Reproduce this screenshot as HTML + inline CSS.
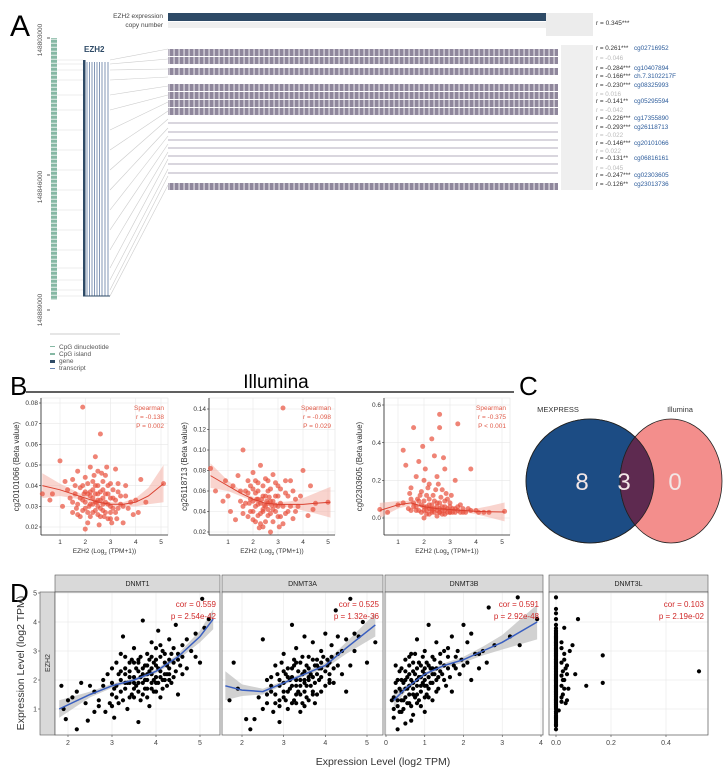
<!DOCTYPE html>
<html><head><meta charset="utf-8"><style>
html,body{margin:0;padding:0;background:#fff;}
svg{display:block;font-family:"Liberation Sans Narrow","Liberation Sans",sans-serif;}
</style></head><body>
<svg id="fig" width="728" height="770" viewBox="0 0 728 770" xmlns="http://www.w3.org/2000/svg">
<defs>
<pattern id="stripes" width="5" height="10" patternUnits="userSpaceOnUse"><rect width="5" height="10" fill="#8f879c"/><rect x="3.6" width="0.9" height="10" fill="#fff"/></pattern>
<pattern id="cpg" width="6" height="4" patternUnits="userSpaceOnUse"><rect width="6" height="4" fill="#86b8a4"/><rect y="2.8" width="6" height="0.8" fill="#fff"/></pattern>
</defs>
<g>
<text x="10" y="36" font-size="30" font-family="Liberation Sans">A</text>
<text x="163" y="18" font-size="6.5" text-anchor="end" fill="#444">EZH2 expression</text>
<text x="163" y="27" font-size="6.5" text-anchor="end" fill="#444">copy number</text>
<rect x="168" y="13" width="378" height="8" fill="#2e4a66"/>
<rect x="546" y="13" width="47" height="23" fill="#ececec"/>
<rect x="168" y="22" width="378" height="6" fill="#efefef"/>
<text x="596" y="25" font-size="6.5" fill="#333">r = 0.345***</text>
<rect x="561" y="45" width="32" height="145" fill="#efefef"/>
<g id="tracks"></g>
<g id="fan"></g>
<rect x="51" y="38" width="6" height="262" fill="url(#cpg)"/>
<line x1="47" y1="38" x2="50" y2="38" stroke="#333" stroke-width="0.8"/>
<line x1="47" y1="175" x2="50" y2="175" stroke="#333" stroke-width="0.8"/>
<line x1="47" y1="310" x2="50" y2="310" stroke="#333" stroke-width="0.8"/>
<text transform="translate(42,40) rotate(-90)" font-size="6.5" text-anchor="middle" fill="#555">148803000</text>
<text transform="translate(42,187) rotate(-90)" font-size="6.5" text-anchor="middle" fill="#555">148846000</text>
<text transform="translate(42,310) rotate(-90)" font-size="6.5" text-anchor="middle" fill="#555">148889000</text>
<text x="84" y="52" font-size="8" font-weight="bold" fill="#2e4a66">EZH2</text>
<g id="gene"></g>
<line x1="50" y1="334" x2="120" y2="334" stroke="#ccc" stroke-width="1"/>
<g font-size="6.5" fill="#555">
<rect x="50" y="346" width="5" height="1" fill="#86b8a4"/><text x="59" y="349">CpG dinucleotide</text>
<rect x="50" y="353" width="5" height="2" fill="#86b8a4"/><text x="59" y="356">CpG island</text>
<rect x="50" y="360" width="5" height="3" fill="#2e4a66"/><text x="59" y="363">gene</text>
<rect x="50" y="368" width="5" height="1" fill="#6a86b4"/><text x="59" y="370">transcript</text>
</g>
</g>
<g>
<text x="10" y="395" font-size="26" font-family="Liberation Sans">B</text>
<text x="276" y="388" font-size="19" text-anchor="middle">Illumina</text>
<line x1="26" y1="392" x2="514" y2="392" stroke="#000" stroke-width="1.2"/>
<g id="bplots"></g>
</g>
<g>
<text x="519" y="395" font-size="26" font-family="Liberation Sans">C</text>
<text x="558" y="412" font-size="7.5" text-anchor="middle" fill="#333">MEXPRESS</text>
<text x="680" y="412" font-size="7.5" text-anchor="middle" fill="#333">Illumina</text>
<clipPath id="clipBlue"><ellipse cx="590" cy="481" rx="64" ry="62"/></clipPath>
<ellipse cx="590" cy="481" rx="64" ry="62" fill="#1c4c84" stroke="#222" stroke-width="0.8"/>
<ellipse cx="671" cy="481" rx="51" ry="62" fill="#f38e8c" stroke="#222" stroke-width="0.8"/>
<ellipse cx="671" cy="481" rx="51" ry="62" fill="#5e2a50" clip-path="url(#clipBlue)" stroke="#222" stroke-width="0.8"/>
<ellipse cx="590" cy="481" rx="64" ry="62" fill="none" stroke="#222" stroke-width="0.8"/>
<g font-size="24" fill="#f2e6e6" text-anchor="middle" font-family="Liberation Sans">
<text x="582" y="490">8</text>
<text x="624" y="490">3</text>
<text x="675" y="490">0</text>
</g>
</g>
<g>
<text x="10" y="602" font-size="26" font-family="Liberation Sans">D</text>
<rect x="40" y="592" width="15" height="143" fill="#d9d9d9" stroke="#555" stroke-width="0.6"/>
<text transform="translate(50,663) rotate(-90)" font-size="7" text-anchor="middle" fill="#333">EZH2</text>
<text transform="translate(24,663) rotate(-90)" font-size="10.5" text-anchor="middle" fill="#333">Expression Level (log2 TPM)</text>
<text x="383" y="765" font-size="10.5" text-anchor="middle" fill="#333">Expression Level (log2 TPM)</text>
<g id="dplots"></g>
</g>
</svg>
<script>
const solidRowsY = [49,57,68,84,92,100,108,183];
const thinRowsY = [123,132,140,148,156,164,173];
const rLabelY = [47,57,67,75,84,93,100,109,117,126,134,142,150,157,167,174,183];
const rLabels = ["r = 0.261***","r = -0.046","r = -0.284***","r = -0.166***","r = -0.230***","r = 0.016","r = -0.141**","r = -0.042","r = -0.226***","r = -0.293***","r = -0.022","r = -0.146***","r = 0.022","r = -0.131**","r = -0.045","r = -0.247***","r = -0.126**"];
const probeLabels = ["cg02716952","","cg10407894","ch.7.3102217F","cg08325993","","cg05295594","","cg17355890","cg26118713","","cg20101066","","cg06816161","","cg02303605","cg23013736"];

const NS='http://www.w3.org/2000/svg';
function mk(tag, attrs, parent){const e=document.createElementNS(NS,tag);for(const k in attrs)e.setAttribute(k,attrs[k]);if(parent)parent.appendChild(e);return e;}
const tracks=document.getElementById('tracks');
solidRowsY.forEach(y=>{
  const r=mk('rect',{x:168,y:y,width:390,height:7,fill:'url(#stripes)'},tracks);
  
  
});
thinRowsY.forEach(y=>{
  const l=mk('line',{x1:168,y1:y,x2:558,y2:y,stroke:'#9a93a6','stroke-width':0.8},tracks);
  
  
});
rLabelY.forEach((y,i)=>{
  const gray = probeLabels[i]==='';
  const t=mk('text',{x:596,y:y+3,'font-size':6.3,fill:gray?'#bbb':'#333'},tracks);
  t.textContent=rLabels[i];
  
  
  if(!gray){
    const p=mk('text',{x:634,y:y+3,'font-size':6.3,fill:'#2a5a9a'},tracks);
    p.textContent=probeLabels[i];
    
    
  }
});
const fan=document.getElementById('fan');
const fanFrom=[60,64,70,80,95,110,130,150,170,190,210,230,250,268,280,290,296];
rLabelY.forEach((y,i)=>{
  mk('line',{x1:110,y1:fanFrom[i],x2:168,y2:y+2,stroke:'#ccc','stroke-width':0.6},fan);
  mk('line',{x1:57,y1:fanFrom[i],x2:83,y2:fanFrom[i],stroke:'#ddd','stroke-width':0.5},fan);
});
const gene=document.getElementById('gene');
mk('rect',{x:83,y:60,width:2.5,height:236,fill:'#2e4a66'},gene);
[87,89.5,92,94.5,97,99.5,102,105,108].forEach(x=>mk('line',{x1:x,y1:62,x2:x,y2:296,stroke:'#4d6a96','stroke-width':0.7},gene));
mk('line',{x1:83,y1:296,x2:110,y2:296,stroke:'#2e4a66','stroke-width':1},gene);

// ===== Panel B data =====
const b1Points=[[0.3,0.036],[0.6,0.033],[1.0,0.052],[1.1,0.030],[1.2,0.042],[1.3,0.038],[1.4,0.034],[1.5,0.027],[1.5,0.043],[1.6,0.036],[1.7,0.031],[1.7,0.047],[1.8,0.025],[1.8,0.039],[1.9,0.078],[1.9,0.033],[2.0,0.029],[2.0,0.044],[2.1,0.036],[2.1,0.022],[2.2,0.031],[2.2,0.049],[2.3,0.034],[2.3,0.027],[2.4,0.040],[2.4,0.054],[2.5,0.030],[2.5,0.036],[2.6,0.065],[2.6,0.025],[2.6,0.033],[2.7,0.038],[2.7,0.028],[2.8,0.045],[2.8,0.032],[2.9,0.024],[2.9,0.036],[3.0,0.030],[3.0,0.041],[3.1,0.034],[3.2,0.027],[3.3,0.037],[3.4,0.031],[3.5,0.022],[3.6,0.035],[3.7,0.029],[3.9,0.026],[4.0,0.033],[4.2,0.043],[4.4,0.032],[5.1,0.041],[2.0,0.019],[2.5,0.047],[3.2,0.048],[2.2,0.037],[2.4,0.032],[2.7,0.034],[1.9,0.040],[2.3,0.042],[3.0,0.024]];
const b1Extra=[[1.5,0.032],[1.6,0.040],[1.7,0.026],[1.8,0.034],[1.9,0.028],[2.0,0.037],[2.0,0.032],[2.1,0.041],[2.1,0.027],[2.2,0.035],[2.2,0.025],[2.3,0.038],[2.3,0.031],[2.4,0.028],[2.4,0.036],[2.5,0.033],[2.5,0.026],[2.5,0.040],[2.6,0.029],[2.6,0.037],[2.7,0.031],[2.7,0.042],[2.8,0.027],[2.8,0.036],[2.9,0.031],[2.9,0.040],[3.0,0.034],[3.0,0.027],[3.1,0.038],[3.1,0.029],[3.2,0.033],[3.3,0.029],[3.3,0.041],[3.4,0.035],[3.5,0.030],[3.6,0.040],[3.8,0.032],[2.35,0.045],[2.65,0.046],[2.15,0.030],[2.45,0.032],[2.75,0.025],[1.95,0.036],[3.05,0.022],[2.55,0.021],[1.65,0.029],[3.25,0.024],[2.85,0.049],[4.1,0.027],[0.7,0.036]];
const b2Points=[[0.3,0.082],[0.5,0.060],[0.9,0.070],[1.0,0.055],[1.1,0.040],[1.2,0.065],[1.3,0.032],[1.4,0.075],[1.5,0.050],[1.6,0.100],[1.6,0.045],[1.7,0.060],[1.8,0.035],[1.8,0.070],[1.9,0.052],[2.0,0.040],[2.0,0.078],[2.1,0.058],[2.1,0.030],[2.2,0.047],[2.2,0.068],[2.3,0.038],[2.3,0.085],[2.4,0.055],[2.4,0.025],[2.5,0.045],[2.5,0.072],[2.6,0.036],[2.6,0.060],[2.7,0.050],[2.7,0.020],[2.8,0.042],[2.8,0.076],[2.9,0.055],[3.0,0.035],[3.0,0.065],[3.1,0.048],[3.2,0.141],[3.2,0.028],[3.3,0.058],[3.4,0.040],[3.5,0.070],[3.6,0.033],[3.7,0.052],[3.8,0.045],[4.0,0.080],[4.2,0.036],[4.5,0.048],[5.0,0.049],[2.2,0.052],[2.6,0.048],[2.4,0.042],[2.9,0.046],[2.0,0.062]];
const b2Extra=[[1.5,0.060],[1.6,0.038],[1.7,0.048],[1.8,0.058],[1.9,0.040],[1.9,0.065],[2.0,0.050],[2.0,0.032],[2.1,0.045],[2.1,0.070],[2.2,0.036],[2.2,0.060],[2.3,0.048],[2.3,0.028],[2.4,0.065],[2.4,0.040],[2.5,0.055],[2.5,0.030],[2.6,0.042],[2.6,0.070],[2.7,0.038],[2.7,0.062],[2.8,0.050],[2.8,0.030],[2.9,0.040],[2.9,0.068],[3.0,0.045],[3.0,0.055],[3.1,0.035],[3.1,0.062],[3.2,0.045],[3.3,0.038],[3.3,0.070],[3.4,0.055],[3.5,0.045],[3.6,0.060],[3.7,0.040],[3.9,0.055],[2.35,0.052],[2.55,0.050],[2.15,0.052],[2.65,0.054],[2.45,0.046],[1.85,0.048],[2.75,0.046],[3.05,0.025],[2.25,0.024],[4.3,0.065],[4.4,0.042],[0.8,0.050]];
const b3Points=[[0.3,0.045],[0.6,0.03],[1.0,0.07],[1.2,0.36],[1.2,0.08],[1.3,0.28],[1.4,0.05],[1.5,0.16],[1.5,0.10],[1.6,0.48],[1.6,0.06],[1.7,0.22],[1.7,0.04],[1.8,0.30],[1.8,0.09],[1.9,0.14],[1.9,0.03],[2.0,0.20],[2.0,0.06],[2.1,0.12],[2.1,0.04],[2.2,0.18],[2.2,0.07],[2.3,0.42],[2.3,0.05],[2.4,0.33],[2.4,0.03],[2.5,0.22],[2.5,0.08],[2.6,0.55],[2.6,0.48],[2.6,0.05],[2.7,0.15],[2.7,0.04],[2.8,0.26],[2.8,0.06],[2.9,0.10],[2.9,0.03],[3.0,0.08],[3.1,0.05],[3.2,0.20],[3.3,0.50],[3.3,0.04],[3.4,0.07],[3.5,0.03],[3.7,0.05],[3.8,0.26],[4.0,0.04],[4.3,0.03],[5.1,0.035],[2.2,0.02],[2.5,0.01],[2.0,0.0],[2.3,0.04],[2.6,0.03],[2.8,0.02],[3.0,0.03],[3.2,0.03]];
const b3Extra=[[1.5,0.04],[1.6,0.08],[1.7,0.06],[1.8,0.04],[1.9,0.07],[2.0,0.04],[2.0,0.09],[2.1,0.06],[2.1,0.02],[2.2,0.05],[2.2,0.10],[2.3,0.03],[2.3,0.07],[2.4,0.05],[2.4,0.09],[2.5,0.04],[2.5,0.06],[2.6,0.03],[2.6,0.08],[2.7,0.06],[2.7,0.02],[2.8,0.04],[2.8,0.09],[2.9,0.05],[3.0,0.03],[3.0,0.06],[3.1,0.03],[3.2,0.05],[3.3,0.06],[3.4,0.03],[3.5,0.05],[3.6,0.03],[3.8,0.04],[4.1,0.03],[4.5,0.03],[2.35,0.12],[2.45,0.15],[2.15,0.16],[2.65,0.11],[2.85,0.13],[1.85,0.12],[1.75,0.10],[2.55,0.18],[3.05,0.12],[2.05,0.26],[2.75,0.32],[1.95,0.38],[1.45,0.13]];
const bFitX=[0.3,1,1.5,2,2.5,3,3.5,4,4.5,5.1];
const b1FitY=[0.040,0.038,0.036,0.034,0.032,0.031,0.031,0.032,0.035,0.041];
const b1Band=[0.006,0.003,0.002,0.001,0.001,0.001,0.001,0.002,0.004,0.009];
const b2FitY=[0.075,0.065,0.058,0.052,0.048,0.047,0.047,0.047,0.048,0.049];
const b2Band=[0.012,0.005,0.003,0.002,0.002,0.002,0.003,0.006,0.010,0.015];
const b3FitY=[0.040,0.070,0.080,0.060,0.050,0.045,0.040,0.035,0.033,0.032];
const b3Band=[0.040,0.020,0.012,0.008,0.006,0.006,0.008,0.015,0.030,0.050];
const b1Ticks=[0.02,0.03,0.04,0.05,0.06,0.07,0.08];
const b2Ticks=[0.02,0.04,0.06,0.08,0.10,0.12,0.14];
const b3Ticks=[0.0,0.2,0.4,0.6];
const bXTicks=[1,2,3,4,5];
const bYLabels=["cg20101066 (Beta value)","cg26118713 (Beta value)","cg02303605 (Beta value)"];
const bStats=[["Spearman","r = -0.138","P = 0.002"],["Spearman","r = -0.098","P = 0.029"],["Spearman","r = -0.375","P < 0.001"]];

function linScale(d0,d1,r0,r1){return v=>r0+(v-d0)*(r1-r0)/(d1-d0);}
function bandPath(xs,ys,bw,sx,sy){let up=xs.map((x,i)=>sx(x)+','+sy(ys[i]+bw[i]));let dn=xs.map((x,i)=>sx(x)+','+sy(ys[i]-bw[i])).reverse();return 'M'+up.join('L')+'L'+dn.join('L')+'Z';}
function linePath(xs,ys,sx,sy){return 'M'+xs.map((x,i)=>sx(x)+','+sy(ys[i])).join('L');}

const bg=document.getElementById('bplots');
const bSpecs=[
 {L:41,R:168,pts:b1Points.concat(b1Extra),fy:b1FitY,bw:b1Band,ticks:b1Ticks,y0:0.02,y1:0.08,py0:527,py1:403,dec:2,x1v:60,x5v:161},
 {L:209,R:335,pts:b2Points.concat(b2Extra),fy:b2FitY,bw:b2Band,ticks:b2Ticks,y0:0.02,y1:0.14,py0:532,py1:409,dec:2,x1v:228,x5v:328},
 {L:384,R:510,pts:b3Points.concat(b3Extra),fy:b3FitY,bw:b3Band,ticks:b3Ticks,y0:0,y1:0.6,py0:518,py1:405,dec:1,x1v:398,x5v:502}];
bSpecs.forEach((s,k)=>{
  const g=mk('g',{},bg);
  
  
  const T=398,B=535;
  const sx=linScale(1,5,s.x1v,s.x5v), sy=linScale(s.y0,s.y1,s.py0,s.py1);
  mk('rect',{x:s.L,y:T,width:s.R-s.L,height:B-T,fill:'#fff',stroke:'#ddd','stroke-width':0.5},g);
  bXTicks.forEach(v=>{mk('line',{x1:sx(v),y1:T,x2:sx(v),y2:B,stroke:'#e6e6e6','stroke-width':0.6},g);
    const t=mk('text',{x:sx(v),y:B+9,'font-size':6.5,'text-anchor':'middle',fill:'#333'},g);t.textContent=v;});
  s.ticks.forEach(v=>{mk('line',{x1:s.L,y1:sy(v),x2:s.R,y2:sy(v),stroke:'#e6e6e6','stroke-width':0.6},g);
    mk('line',{x1:s.L-2,y1:sy(v),x2:s.L,y2:sy(v),stroke:'#333','stroke-width':0.6},g);
    const t=mk('text',{x:s.L-3,y:sy(v)+2.2,'font-size':6.5,'text-anchor':'end',fill:'#333'},g);t.textContent=v.toFixed(s.dec);});
  mk('line',{x1:s.L,y1:T,x2:s.L,y2:B,stroke:'#222','stroke-width':0.8},g);
  mk('line',{x1:s.L,y1:B,x2:s.R,y2:B,stroke:'#222','stroke-width':0.8},g);
  const band=mk('path',{d:bandPath(bFitX,s.fy,s.bw,sx,sy),fill:'#f4b0a6','fill-opacity':0.55},g);
  
  
  s.pts.forEach(p=>{const c=mk('circle',{cx:sx(p[0]),cy:sy(p[1]),r:2.5,fill:'#e8503c','fill-opacity':0.7},g);
    
    });
  const fl=mk('path',{d:linePath(bFitX,s.fy,sx,sy),fill:'none',stroke:'#d9402f','stroke-width':1},g);
  
  
  bStats[k].forEach((txt,i)=>{const t=mk('text',{x:s.R-4,y:T+12+i*9,'font-size':6.5,'text-anchor':'end',fill:'#e05a48'},g);t.textContent=txt;});
  const yl=mk('text',{transform:`translate(${s.L-22},${(T+B)/2}) rotate(-90)`,'font-size':8,'text-anchor':'middle',fill:'#333'},g);yl.textContent=bYLabels[k];
  
  
  const xl=mk('text',{x:(s.L+s.R)/2,y:553,'font-size':6.5,'text-anchor':'middle',fill:'#333'},g);
  xl.innerHTML='EZH2 (Log<tspan font-size="4.5" dy="2">2</tspan><tspan dy="-2"> (TPM+1))</tspan>';
  
  
});

// ===== Panel D data =====
const dNames=["DNMT1","DNMT3A","DNMT3B","DNMT3L"];
const dCor=["cor = 0.559","cor = 0.525","cor = 0.591","cor = 0.103"];
const dP=["p = 2.54e-42","p = 1.32e-36","p = 2.92e-48","p = 2.19e-02"];
const d1Points=[[1.85,1.8],[1.9,1.0],[1.95,0.65],[2.1,1.4],[2.2,0.3],[2.3,1.9],[2.4,1.2],[2.45,0.6],[2.6,1.6],[2.7,1.3],[2.8,1.8],[2.85,0.9],[2.9,2.2],[3.0,1.5],[3.0,1.9],[3.05,0.7],[3.1,2.6],[3.15,1.2],[3.2,2.0],[3.25,3.5],[3.3,1.7],[3.3,2.8],[3.35,1.0],[3.4,2.3],[3.45,1.5],[3.5,2.1],[3.5,3.1],[3.55,1.8],[3.6,2.6],[3.6,0.55],[3.65,1.3],[3.7,2.2],[3.7,4.05],[3.75,1.7],[3.8,2.9],[3.8,2.0],[3.85,1.1],[3.9,2.4],[3.9,3.3],[3.95,1.6],[4.0,2.1],[4.0,2.7],[4.05,3.7],[4.1,1.4],[4.1,2.3],[4.15,3.0],[4.2,2.0],[4.2,2.6],[4.25,1.8],[4.3,3.4],[4.3,2.4],[4.35,2.9],[4.4,2.1],[4.45,3.9],[4.5,1.5],[4.5,2.7],[4.6,3.2],[4.7,2.4],[4.8,3.0],[4.9,3.6],[5.0,2.6],[5.05,4.8],[5.2,4.1],[3.6,2.3],[3.4,1.9],[3.2,1.6],[2.95,1.2],[4.0,1.9],[4.2,2.2],[3.8,2.5],[3.5,2.6],[3.9,1.9],[4.4,2.6],[3.3,2.2],[3.7,1.5],[4.1,2.8],[3.6,1.9],[3.9,2.2],[4.3,2.0],[3.4,2.6],[3.1,1.8],[4.6,2.8],[3.8,1.4],[4.0,3.1],[3.5,1.4],[4.25,2.5]];
const d1Extra=[[3.0,2.4],[3.05,1.7],[3.1,1.4],[3.15,2.2],[3.2,2.9],[3.25,1.3],[3.3,2.4],[3.35,1.9],[3.4,1.4],[3.45,2.7],[3.5,1.7],[3.55,2.4],[3.6,1.6],[3.65,2.8],[3.7,1.9],[3.75,2.5],[3.8,1.7],[3.85,2.3],[3.9,2.8],[3.95,2.0],[4.0,1.6],[4.05,2.4],[4.1,2.1],[4.15,1.7],[4.2,2.9],[4.25,2.2],[4.3,2.7],[4.35,1.9],[4.4,3.1],[4.45,2.3],[4.5,2.9],[4.55,2.5],[4.6,2.2],[3.6,2.7],[3.7,2.4],[3.8,2.2],[3.9,1.7],[4.0,2.5],[4.1,3.2],[3.5,1.9],[3.4,2.1],[3.3,1.9],[3.75,2.0],[3.95,2.6],[4.15,2.0],[3.65,2.1],[3.85,2.7],[4.05,1.9],[4.3,2.2],[3.2,2.3],[2.5,1.8],[2.7,1.1],[2.2,1.6],[2.8,2.0],[4.7,3.4],[4.9,2.8],[5.1,3.8],[2.0,1.3],[2.6,0.9],[3.0,1.1]];
const d2Points=[[1.7,1.3],[1.8,2.6],[1.9,1.7],[2.2,0.3],[2.1,0.65],[2.3,0.65],[2.5,1.0],[2.5,3.4],[2.6,1.5],[2.7,2.1],[2.75,0.9],[2.8,1.2],[2.8,2.5],[2.9,1.8],[2.9,0.55],[3.0,1.4],[3.0,2.9],[3.05,2.2],[3.1,1.0],[3.15,1.7],[3.2,3.9],[3.2,2.4],[3.25,1.3],[3.3,2.0],[3.3,3.1],[3.35,1.6],[3.4,2.6],[3.4,0.9],[3.45,2.2],[3.5,1.9],[3.5,3.5],[3.55,1.4],[3.6,2.4],[3.6,2.8],[3.65,1.8],[3.7,2.1],[3.7,3.3],[3.75,1.2],[3.8,2.5],[3.85,2.0],[3.9,3.0],[3.9,1.6],[4.0,2.3],[4.0,3.6],[4.05,2.7],[4.1,1.9],[4.15,3.2],[4.2,2.4],[4.25,4.4],[4.3,2.9],[4.4,2.2],[4.5,3.4],[4.5,1.6],[4.6,4.8],[4.7,3.0],[4.8,3.5],[5.0,2.6],[5.2,3.3],[3.0,1.9],[3.2,1.8],[3.5,2.3],[3.8,2.2],[3.3,1.5],[2.7,1.6],[3.1,2.1],[3.4,1.8],[3.6,2.0],[3.9,2.6],[2.9,1.3],[3.3,2.6],[4.1,2.6],[3.7,1.6],[2.6,2.0],[3.5,1.1]];
const d2Extra=[[2.8,1.5],[2.85,2.2],[2.9,1.1],[2.95,2.6],[3.0,1.6],[3.05,1.3],[3.1,2.4],[3.15,2.0],[3.2,1.2],[3.25,2.7],[3.3,1.8],[3.35,2.3],[3.4,1.5],[3.45,2.8],[3.5,1.6],[3.55,2.5],[3.6,1.3],[3.65,2.2],[3.7,2.7],[3.75,1.9],[3.8,1.5],[3.85,2.4],[3.9,2.1],[3.95,2.8],[4.0,1.8],[4.05,2.5],[4.1,2.2],[4.15,2.8],[4.2,1.9],[4.3,2.5],[4.4,3.0],[4.6,2.5],[3.0,2.3],[3.2,2.1],[3.4,2.0],[3.6,2.1],[3.8,2.7],[3.3,1.2],[3.5,2.0],[3.7,1.5],[2.6,1.2],[2.7,1.8],[2.4,1.4],[3.1,1.6],[3.45,1.2],[3.9,2.4],[4.1,2.0],[3.55,1.8],[3.25,2.5],[3.75,2.5],[2.9,2.0],[4.3,3.5],[4.7,3.6],[4.9,4.0]];
const d3Points=[[0.2,1.4],[0.2,0.7],[0.25,1.9],[0.3,0.3],[0.3,1.1],[0.35,2.3],[0.4,1.6],[0.4,0.9],[0.45,1.3],[0.5,2.0],[0.5,0.5],[0.55,1.7],[0.6,2.5],[0.6,1.2],[0.65,2.9],[0.7,1.9],[0.7,0.8],[0.75,2.2],[0.8,1.5],[0.8,3.4],[0.85,2.6],[0.9,1.8],[0.9,1.1],[0.95,2.3],[1.0,2.0],[1.0,3.0],[1.05,1.5],[1.1,2.5],[1.1,3.9],[1.15,1.9],[1.2,2.8],[1.2,1.3],[1.25,2.2],[1.3,3.3],[1.35,1.7],[1.4,2.6],[1.5,2.0],[1.5,3.0],[1.6,2.4],[1.7,1.6],[1.7,3.5],[1.8,2.8],[1.9,2.2],[2.0,3.9],[2.0,2.5],[2.1,3.3],[2.2,2.0],[2.3,2.9],[2.4,2.4],[2.5,3.0],[2.6,2.6],[2.65,4.5],[2.8,3.2],[3.2,3.5],[3.4,4.85],[3.45,3.2],[3.9,4.1],[0.6,1.8],[0.8,2.0],[1.0,2.4],[0.5,1.4],[0.7,2.6],[1.3,2.0],[0.9,2.1],[1.1,1.7],[0.6,2.2],[1.4,2.3],[0.8,1.2],[1.2,2.4],[1.0,1.8],[0.4,2.0],[1.6,2.8],[0.7,1.5],[1.8,2.4]];
const d3Extra=[[0.2,1.0],[0.25,1.6],[0.3,1.3],[0.3,2.0],[0.35,0.9],[0.35,1.7],[0.4,1.3],[0.4,2.4],[0.45,1.9],[0.45,1.0],[0.5,1.7],[0.5,2.3],[0.55,1.2],[0.55,2.1],[0.6,1.5],[0.6,2.8],[0.65,1.1],[0.65,2.0],[0.7,1.7],[0.7,2.3],[0.75,1.4],[0.75,2.9],[0.8,1.8],[0.8,2.4],[0.85,1.3],[0.85,2.1],[0.9,2.5],[0.9,1.6],[0.95,1.9],[0.95,2.8],[1.0,1.4],[1.0,2.2],[1.05,2.6],[1.05,1.8],[1.1,2.1],[1.1,1.4],[1.15,2.4],[1.2,1.9],[1.2,2.2],[1.25,2.7],[1.3,1.6],[1.3,2.4],[1.35,2.1],[1.4,2.9],[1.45,2.2],[1.5,2.5],[1.55,1.8],[1.6,3.1],[1.65,2.1],[1.75,2.5],[1.85,3.0],[1.95,2.7],[2.1,2.6],[2.2,3.6],[2.4,2.9],[0.15,1.3],[0.25,2.5],[0.5,2.7],[0.65,0.6],[1.0,0.9]];
const d4Points=[[0,0.3],[0,0.55],[0,0.7],[0,0.85],[0,1.0],[0,1.15],[0,1.3],[0,1.45],[0,1.6],[0,1.75],[0,1.9],[0,2.05],[0,2.2],[0,2.35],[0,2.5],[0,2.65],[0,2.8],[0,2.95],[0,3.1],[0,3.25],[0,3.4],[0,3.55],[0,3.7],[0,3.9],[0,4.1],[0,4.45],[0,4.85],[0,0.62],[0,0.78],[0,0.92],[0,1.08],[0,1.22],[0,1.38],[0,1.52],[0,1.68],[0,1.82],[0,1.98],[0,2.12],[0,2.28],[0,2.42],[0,2.58],[0,2.72],[0,2.88],[0,3.02],[0,3.18],[0,3.32],[0,3.48],[0,3.62],[0.02,1.25],[0.025,1.5],[0.02,1.8],[0.03,2.0],[0.025,2.3],[0.02,2.6],[0.03,2.9],[0.02,3.1],[0.03,3.8],[0.035,1.2],[0.04,2.2],[0.04,2.5],[0.05,3.0],[0.06,3.2],[0.07,2.2],[0.08,4.1],[0.11,1.8],[0.17,1.9],[0.17,2.85],[0.52,2.3],[0.01,0.95],[0.045,1.7]];
const d4Extra=[[0,0.42],[0,0.48],[0,0.66],[0,0.74],[0,0.9],[0,1.05],[0,1.12],[0,1.19],[0,1.27],[0,1.34],[0,1.42],[0,1.49],[0,1.56],[0,1.64],[0,1.71],[0,1.79],[0,1.86],[0,1.94],[0,2.01],[0,2.09],[0,2.16],[0,2.24],[0,2.31],[0,2.39],[0,2.46],[0,2.54],[0,2.61],[0,2.69],[0,2.76],[0,2.84],[0,2.91],[0,2.99],[0,3.06],[0,3.14],[0,3.21],[0,3.29],[0,3.36],[0,3.44],[0,3.51],[0,3.59],[0,3.66],[0,3.78],[0,4.3],[0.02,1.4],[0.025,2.0],[0.03,2.7],[0.02,3.3],[0.03,1.7],[0.04,1.3],[0.035,2.4],[0.02,2.15]];
const d1FitX=[1.8,2.5,3,3.5,4,4.5,5,5.3], d1FitY=[1.0,1.5,1.8,2.0,2.3,2.8,3.5,4.1], d1Band=[0.3,0.1,0.07,0.06,0.07,0.1,0.2,0.35];
const d2FitX=[1.6,2,2.5,3,3.5,4,4.5,5.2], d2FitY=[1.8,1.65,1.6,1.9,2.2,2.5,3.1,3.9], d2Band=[0.5,0.2,0.1,0.07,0.07,0.1,0.2,0.4];
const d3FitX=[0.2,0.5,1,1.5,2,2.5,3,3.9], d3FitY=[1.3,1.7,2.2,2.5,2.7,3.0,3.3,4.0], d3Band=[0.25,0.1,0.06,0.08,0.1,0.15,0.25,0.6];
const dYTicks=[1,2,3,4,5];
const d1XTicks=[2,3,4,5], d2XTicks=[2,3,4,5], d3XTicks=[0,1,2,3,4], d4XTicks=[0.0,0.2,0.4];

const dg=document.getElementById('dplots');
const sy=linScale(1,5,709,593);
const dSpecs=[
 {L:55,R:220,sx:linScale(2,5,68,200),pts:d1Points.concat(d1Extra),fx:d1FitX,fy:d1FitY,bw:d1Band,xt:d1XTicks,dec:0},
 {L:222,R:383,sx:linScale(2,5,242,367),pts:d2Points.concat(d2Extra),fx:d2FitX,fy:d2FitY,bw:d2Band,xt:d2XTicks,dec:0},
 {L:385,R:543,sx:linScale(0,4,386,541),pts:d3Points.concat(d3Extra),fx:d3FitX,fy:d3FitY,bw:d3Band,xt:d3XTicks,dec:0},
 {L:549,R:708,sx:linScale(0,0.4,556,666),pts:d4Points.concat(d4Extra),fx:null,xt:d4XTicks,dec:1}];
dSpecs.forEach((s,k)=>{
  const g=mk('g',{},dg);
  
  
  const T=592,B=735;
  const strip=mk('rect',{x:s.L,y:575,width:s.R-s.L,height:17,fill:'#d9d9d9',stroke:'#555','stroke-width':0.6},g);
  
  
  const st=mk('text',{x:(s.L+s.R)/2,y:586,'font-size':7,'text-anchor':'middle',fill:'#222'},g);st.textContent=dNames[k];
  mk('rect',{x:s.L,y:T,width:s.R-s.L,height:B-T,fill:'#fff'},g);
  s.xt.forEach(v=>{mk('line',{x1:s.sx(v),y1:T,x2:s.sx(v),y2:B,stroke:'#ebebeb','stroke-width':0.7},g);
    mk('line',{x1:s.sx(v),y1:B,x2:s.sx(v),y2:B+2,stroke:'#444','stroke-width':0.6},g);
    const t=mk('text',{x:s.sx(v),y:B+10,'font-size':7,'text-anchor':'middle',fill:'#444'},g);t.textContent=v.toFixed(s.dec);});
  dYTicks.forEach(v=>{mk('line',{x1:s.L,y1:sy(v),x2:s.R,y2:sy(v),stroke:'#ebebeb','stroke-width':0.7},g);});
  if(s.fx){
    const band=mk('path',{d:bandPath(s.fx,s.fy,s.bw,s.sx,sy),fill:'#bdbdbd','fill-opacity':0.7},g);
    
    
  }
  s.pts.forEach(p=>{const c=mk('circle',{cx:s.sx(p[0]),cy:sy(p[1]),r:2.1,fill:'#000'},g);
    
    });
  if(s.fx){
    const fl=mk('path',{d:linePath(s.fx,s.fy,s.sx,sy),fill:'none',stroke:'#3a5fc0','stroke-width':1.5},g);
    
    
  }
  mk('rect',{x:s.L,y:T,width:s.R-s.L,height:B-T,fill:'none',stroke:'#555','stroke-width':0.7},g);
  const c1=mk('text',{x:s.R-4,y:607,'font-size':8,'text-anchor':'end',fill:'#d02828'},g);c1.textContent=dCor[k];
  const c2=mk('text',{x:s.R-4,y:619,'font-size':8,'text-anchor':'end',fill:'#d02828'},g);c2.textContent=dP[k];
});
dYTicks.forEach(v=>{
  mk('line',{x1:38,y1:sy(v),x2:40,y2:sy(v),stroke:'#444','stroke-width':0.6},dg);
  const t=mk('text',{x:37,y:sy(v)+2.5,'font-size':7,'text-anchor':'end',fill:'#444'},dg);t.textContent=v;
});
</script>
</body></html>
